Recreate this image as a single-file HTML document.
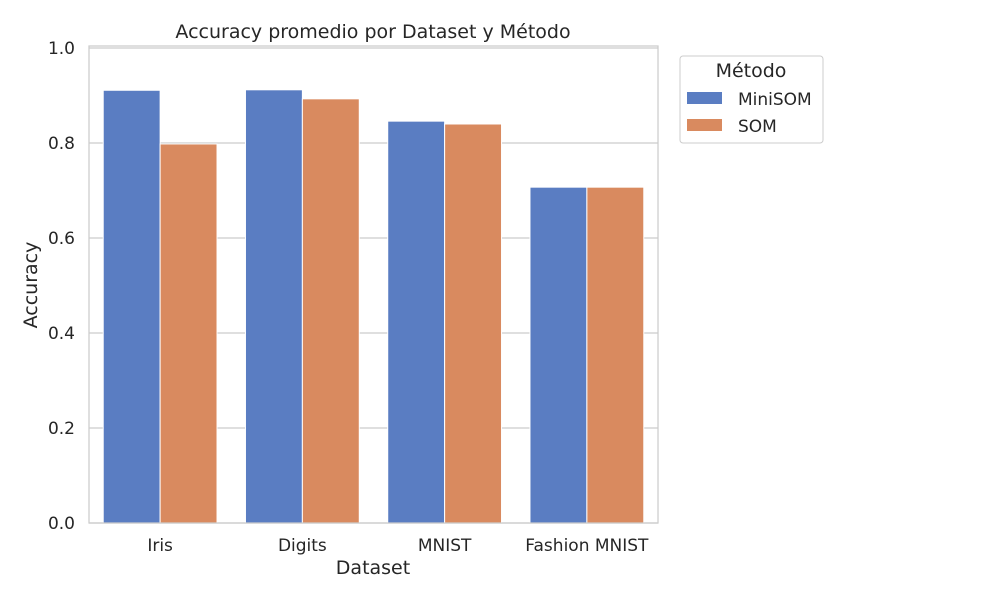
<!DOCTYPE html>
<html><head><meta charset="utf-8"><style>
body{margin:0;background:#fff;font-family:"Liberation Sans","DejaVu Sans",sans-serif;}
svg text{font-family:"DejaVu Sans","Liberation Sans",sans-serif;fill:#262626;}
</style></head><body>
<svg width="1000" height="600" xmlns="http://www.w3.org/2000/svg">
<rect width="1000" height="600" fill="#fff"/>
<g id="grid"></g>
<g id="bars"></g>
<rect x="89" y="46" width="569" height="477" fill="none" stroke="#ccc" stroke-width="1.25"/>
<g id="ticks"></g>
<text x="373" y="38" font-size="19" text-anchor="middle">Accuracy promedio por Dataset y Método</text>
<text x="373" y="574" font-size="19" text-anchor="middle">Dataset</text>
<text x="37" y="285" font-size="19" text-anchor="middle" transform="rotate(-90 37 285)">Accuracy</text>
<g>
<rect x="680" y="56" width="143" height="87" rx="3" fill="#fff" stroke="#ccc"/>
<text x="751" y="77" font-size="19" text-anchor="middle">Método</text>
<rect x="687" y="92" width="35" height="12" fill="#5a7dc2"/>
<text x="738" y="105" font-size="17">MiniSOM</text>
<rect x="687" y="119" width="35" height="12" fill="#d98a5f"/>
<text x="738" y="132" font-size="17">SOM</text>
</g>
</svg>
<script>
const categories=["Iris","Digits","MNIST","Fashion MNIST"];
const miniSOM=[0.911,0.912,0.846,0.707];
const som=[0.798,0.893,0.840,0.707];
const yTicks=[0,0.2,0.4,0.6,0.8,1.0];
const yTickLabels=["0.0","0.2","0.4","0.6","0.8","1.0"];
const NS="http://www.w3.org/2000/svg";
const x0=89,pw=569,yb=523,ppu=475;
const y=v=>yb-v*ppu;
const band=pw/categories.length;
const xc=i=>x0+band*(i+0.5);
const grid=document.getElementById('grid'),bars=document.getElementById('bars'),ticks=document.getElementById('ticks');
function mk(t,a,p){const e=document.createElementNS(NS,t);for(const k in a)e.setAttribute(k,a[k]);p.appendChild(e);return e;}
yTicks.forEach((v,i)=>{
 const l=mk('line',{x1:x0,x2:x0+pw,y1:y(v),y2:y(v),stroke:'#ccc','stroke-width':1.25},grid);
 
 
 const t=mk('text',{x:x0-14,y:y(v)+6,'font-size':17,'text-anchor':'end'},ticks);t.textContent=yTickLabels[i];
 
 
});
const bw=band*0.8/2;
categories.forEach((c,i)=>{
 const b1=mk('rect',{x:xc(i)-bw,y:y(miniSOM[i]),width:bw,height:miniSOM[i]*ppu,fill:'#5a7dc2',stroke:'#fff','stroke-width':1},bars);
 
 
 const b2=mk('rect',{x:xc(i),y:y(som[i]),width:bw,height:som[i]*ppu,fill:'#d98a5f',stroke:'#fff','stroke-width':1},bars);
 
 
 const t=mk('text',{x:xc(i),y:551,'font-size':17,'text-anchor':'middle'},ticks);t.textContent=c;
 
 
});
</script>
</body></html>
